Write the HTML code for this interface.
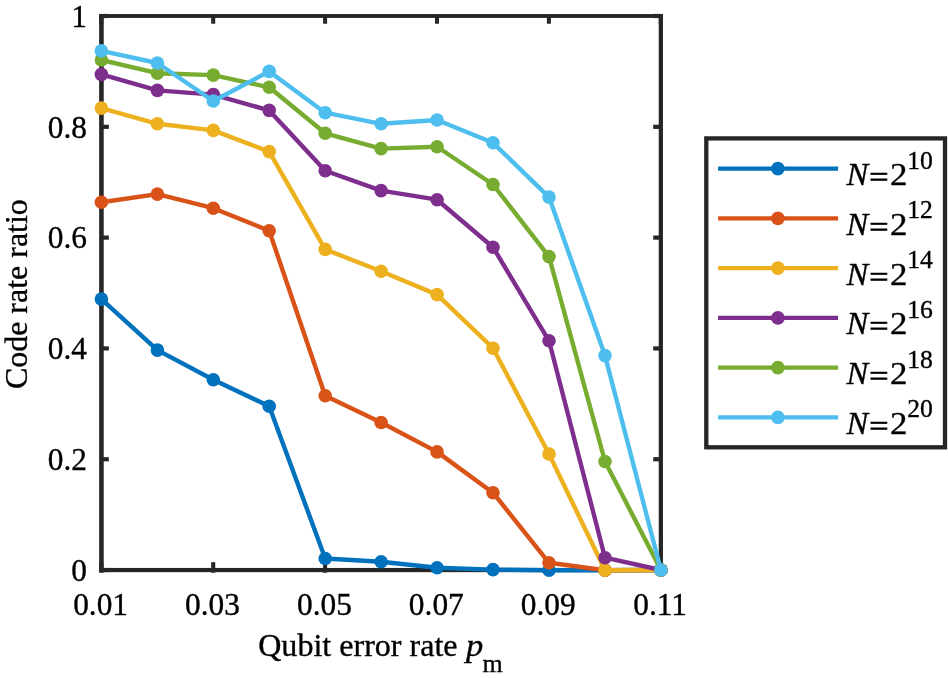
<!DOCTYPE html>
<html><head><meta charset="utf-8"><title>Code rate ratio</title>
<style>
html,body{margin:0;padding:0;background:#fff;}
svg{display:block;}
text{font-family:"Liberation Serif","Times New Roman",serif;fill:#000;}
</style></head><body>
<svg width="948" height="678" viewBox="0 0 948 678">
<rect width="948" height="678" fill="#fff"/>

<g fill="#262626">
<rect x="99.14" y="14.07" width="4.58" height="558.09"/>
<rect x="658.74" y="14.07" width="4.22" height="558.09"/>
<rect x="99.14" y="14.07" width="563.82" height="3.85"/>
<rect x="99.14" y="567.94" width="563.82" height="4.22"/>
<rect x="99.27" y="562.14" width="4.06" height="10.6"/>
<rect x="99.27" y="16" width="4.06" height="7.72"/>
<rect x="211.17" y="562.14" width="4.06" height="10.6"/>
<rect x="211.17" y="16" width="4.06" height="7.72"/>
<rect x="323.07" y="562.14" width="4.06" height="10.6"/>
<rect x="323.07" y="16" width="4.06" height="7.72"/>
<rect x="434.97" y="562.14" width="4.06" height="10.6"/>
<rect x="434.97" y="16" width="4.06" height="7.72"/>
<rect x="546.87" y="562.14" width="4.06" height="10.6"/>
<rect x="546.87" y="16" width="4.06" height="7.72"/>
<rect x="658.77" y="562.14" width="4.06" height="10.6"/>
<rect x="658.77" y="16" width="4.06" height="7.72"/>
<rect x="101" y="567.95" width="7.84" height="4.2"/>
<rect x="653.2" y="567.95" width="7.8" height="4.2"/>
<rect x="101" y="457.14" width="7.84" height="4.2"/>
<rect x="653.2" y="457.14" width="7.8" height="4.2"/>
<rect x="101" y="346.33" width="7.84" height="4.2"/>
<rect x="653.2" y="346.33" width="7.8" height="4.2"/>
<rect x="101" y="235.52" width="7.84" height="4.2"/>
<rect x="653.2" y="235.52" width="7.8" height="4.2"/>
<rect x="101" y="124.71" width="7.84" height="4.2"/>
<rect x="653.2" y="124.71" width="7.8" height="4.2"/>
<rect x="101" y="13.90" width="7.84" height="4.2"/>
<rect x="653.2" y="13.90" width="7.8" height="4.2"/>
</g>
<polyline points="101.4,299.1 157.4,350.1 213.3,379.7 269.2,406.2 325.2,558.5 381.1,561.8 437.1,567.8 493.0,569.6 549.0,570.2 605.0,570.2 660.9,570.0" fill="none" stroke="#0072BD" stroke-width="4.4" stroke-linejoin="round"/>
<g fill="#0072BD"><circle cx="101.4" cy="299.1" r="6.8"/><circle cx="157.4" cy="350.1" r="6.8"/><circle cx="213.3" cy="379.7" r="6.8"/><circle cx="269.2" cy="406.2" r="6.8"/><circle cx="325.2" cy="558.5" r="6.8"/><circle cx="381.1" cy="561.8" r="6.8"/><circle cx="437.1" cy="567.8" r="6.8"/><circle cx="493.0" cy="569.6" r="6.8"/><circle cx="549.0" cy="570.2" r="6.8"/><circle cx="605.0" cy="570.2" r="6.8"/><circle cx="660.9" cy="570.0" r="6.8"/></g>
<polyline points="101.4,202.2 157.4,194.1 213.3,208.2 269.2,230.8 325.2,395.7 381.1,422.5 437.1,451.9 493.0,492.7 549.0,562.8 605.0,570.2 660.9,570.0" fill="none" stroke="#D95319" stroke-width="4.4" stroke-linejoin="round"/>
<g fill="#D95319"><circle cx="101.4" cy="202.2" r="6.8"/><circle cx="157.4" cy="194.1" r="6.8"/><circle cx="213.3" cy="208.2" r="6.8"/><circle cx="269.2" cy="230.8" r="6.8"/><circle cx="325.2" cy="395.7" r="6.8"/><circle cx="381.1" cy="422.5" r="6.8"/><circle cx="437.1" cy="451.9" r="6.8"/><circle cx="493.0" cy="492.7" r="6.8"/><circle cx="549.0" cy="562.8" r="6.8"/><circle cx="605.0" cy="570.2" r="6.8"/><circle cx="660.9" cy="570.0" r="6.8"/></g>
<polyline points="101.4,108.1 157.4,123.8 213.3,130.4 269.2,151.6 325.2,249.4 381.1,271.3 437.1,294.6 493.0,348.2 549.0,454.0 605.0,570.2 660.9,570.0" fill="none" stroke="#EDB120" stroke-width="4.4" stroke-linejoin="round"/>
<g fill="#EDB120"><circle cx="101.4" cy="108.1" r="6.8"/><circle cx="157.4" cy="123.8" r="6.8"/><circle cx="213.3" cy="130.4" r="6.8"/><circle cx="269.2" cy="151.6" r="6.8"/><circle cx="325.2" cy="249.4" r="6.8"/><circle cx="381.1" cy="271.3" r="6.8"/><circle cx="437.1" cy="294.6" r="6.8"/><circle cx="493.0" cy="348.2" r="6.8"/><circle cx="549.0" cy="454.0" r="6.8"/><circle cx="605.0" cy="570.2" r="6.8"/><circle cx="660.9" cy="570.0" r="6.8"/></g>
<polyline points="101.4,74.4 157.4,90.4 213.3,94.6 269.2,110.4 325.2,170.8 381.1,190.6 437.1,199.7 493.0,247.2 549.0,340.8 605.0,557.7 660.9,570.0" fill="none" stroke="#7E2F8E" stroke-width="4.4" stroke-linejoin="round"/>
<g fill="#7E2F8E"><circle cx="101.4" cy="74.4" r="6.8"/><circle cx="157.4" cy="90.4" r="6.8"/><circle cx="213.3" cy="94.6" r="6.8"/><circle cx="269.2" cy="110.4" r="6.8"/><circle cx="325.2" cy="170.8" r="6.8"/><circle cx="381.1" cy="190.6" r="6.8"/><circle cx="437.1" cy="199.7" r="6.8"/><circle cx="493.0" cy="247.2" r="6.8"/><circle cx="549.0" cy="340.8" r="6.8"/><circle cx="605.0" cy="557.7" r="6.8"/><circle cx="660.9" cy="570.0" r="6.8"/></g>
<polyline points="101.4,60.0 157.4,73.2 213.3,75.1 269.2,87.3 325.2,133.3 381.1,148.6 437.1,146.8 493.0,184.5 549.0,256.6 605.0,461.5 660.9,570.0" fill="none" stroke="#77AC30" stroke-width="4.4" stroke-linejoin="round"/>
<g fill="#77AC30"><circle cx="101.4" cy="60.0" r="6.8"/><circle cx="157.4" cy="73.2" r="6.8"/><circle cx="213.3" cy="75.1" r="6.8"/><circle cx="269.2" cy="87.3" r="6.8"/><circle cx="325.2" cy="133.3" r="6.8"/><circle cx="381.1" cy="148.6" r="6.8"/><circle cx="437.1" cy="146.8" r="6.8"/><circle cx="493.0" cy="184.5" r="6.8"/><circle cx="549.0" cy="256.6" r="6.8"/><circle cx="605.0" cy="461.5" r="6.8"/><circle cx="660.9" cy="570.0" r="6.8"/></g>
<polyline points="101.4,50.9 157.4,63.0 213.3,101.0 269.2,71.4 325.2,112.7 381.1,123.8 437.1,120.0 493.0,142.8 549.0,197.1 605.0,355.6 660.9,570.0" fill="none" stroke="#4DBEEE" stroke-width="4.4" stroke-linejoin="round"/>
<g fill="#4DBEEE"><circle cx="101.4" cy="50.9" r="6.8"/><circle cx="157.4" cy="63.0" r="6.8"/><circle cx="213.3" cy="101.0" r="6.8"/><circle cx="269.2" cy="71.4" r="6.8"/><circle cx="325.2" cy="112.7" r="6.8"/><circle cx="381.1" cy="123.8" r="6.8"/><circle cx="437.1" cy="120.0" r="6.8"/><circle cx="493.0" cy="142.8" r="6.8"/><circle cx="549.0" cy="197.1" r="6.8"/><circle cx="605.0" cy="355.6" r="6.8"/><circle cx="660.9" cy="570.0" r="6.8"/></g>
<rect x="706.3" y="138.4" width="238.7" height="308.9" fill="#fff" stroke="#262626" stroke-width="4.3"/>
<line x1="718.1" y1="168.65" x2="838.1" y2="168.65" stroke="#0072BD" stroke-width="4.4"/>
<circle cx="777.9" cy="168.65" r="6.8" fill="#0072BD"/>
<line x1="718.1" y1="218.4" x2="838.1" y2="218.4" stroke="#D95319" stroke-width="4.4"/>
<circle cx="777.9" cy="218.4" r="6.8" fill="#D95319"/>
<line x1="718.1" y1="268.15" x2="838.1" y2="268.15" stroke="#EDB120" stroke-width="4.4"/>
<circle cx="777.9" cy="268.15" r="6.8" fill="#EDB120"/>
<line x1="718.1" y1="317.9" x2="838.1" y2="317.9" stroke="#7E2F8E" stroke-width="4.4"/>
<circle cx="777.9" cy="317.9" r="6.8" fill="#7E2F8E"/>
<line x1="718.1" y1="367.65" x2="838.1" y2="367.65" stroke="#77AC30" stroke-width="4.4"/>
<circle cx="777.9" cy="367.65" r="6.8" fill="#77AC30"/>
<line x1="718.1" y1="417.4" x2="838.1" y2="417.4" stroke="#4DBEEE" stroke-width="4.4"/>
<circle cx="777.9" cy="417.4" r="6.8" fill="#4DBEEE"/>
<text transform="translate(100.60,614.60) scale(1.005,1)" font-size="31.2" text-anchor="middle" stroke="#000" stroke-width="0.35">0.01</text>
<text transform="translate(212.50,614.60) scale(1.005,1)" font-size="31.2" text-anchor="middle" stroke="#000" stroke-width="0.35">0.03</text>
<text transform="translate(324.40,614.60) scale(1.005,1)" font-size="31.2" text-anchor="middle" stroke="#000" stroke-width="0.35">0.05</text>
<text transform="translate(436.30,614.60) scale(1.005,1)" font-size="31.2" text-anchor="middle" stroke="#000" stroke-width="0.35">0.07</text>
<text transform="translate(548.20,614.60) scale(1.005,1)" font-size="31.2" text-anchor="middle" stroke="#000" stroke-width="0.35">0.09</text>
<text transform="translate(660.10,614.60) scale(1.005,1)" font-size="31.2" text-anchor="middle" stroke="#000" stroke-width="0.35">0.11</text>
<text transform="translate(86.90,580.85) scale(1.005,1)" font-size="31.2" text-anchor="end" stroke="#000" stroke-width="0.35">0</text>
<text transform="translate(86.90,470.04) scale(1.005,1)" font-size="31.2" text-anchor="end" stroke="#000" stroke-width="0.35">0.2</text>
<text transform="translate(86.90,359.23) scale(1.005,1)" font-size="31.2" text-anchor="end" stroke="#000" stroke-width="0.35">0.4</text>
<text transform="translate(86.90,248.42) scale(1.005,1)" font-size="31.2" text-anchor="end" stroke="#000" stroke-width="0.35">0.6</text>
<text transform="translate(86.90,137.61) scale(1.005,1)" font-size="31.2" text-anchor="end" stroke="#000" stroke-width="0.35">0.8</text>
<text transform="translate(86.90,26.80) scale(1.005,1)" font-size="31.2" text-anchor="end" stroke="#000" stroke-width="0.35">1</text>
<text transform="translate(258.20,656.00) scale(0.993,1)" font-size="32.3" stroke="#000" stroke-width="0.35">Qubit error rate</text>
<text transform="translate(466.00,656.00) scale(1.07,1)" font-size="32.3" font-style="italic" stroke="#000" stroke-width="0.35">p</text>
<text transform="translate(482.60,671.90)" font-size="26.0" stroke="#000" stroke-width="0.35">m</text>
<text transform="translate(27.20,389.10) rotate(-90) scale(0.99,1)" font-size="32.3" stroke="#000" stroke-width="0.35">Code rate ratio</text>
<text transform="translate(846.50,185.00) scale(1.03,1)" font-size="31.6" font-style="italic" stroke="#000" stroke-width="0.35">N</text>
<text transform="translate(869.30,186.20) scale(1.22,1)" font-size="28.0" stroke="#000" stroke-width="0.75">=</text>
<text transform="translate(890.10,185.00) scale(1.07,1)" font-size="32.6" stroke="#000" stroke-width="0.35">2</text>
<text transform="translate(907.20,168.50) scale(0.98,1)" font-size="26.2" stroke="#000" stroke-width="0.35">10</text>
<text transform="translate(846.50,234.75) scale(1.03,1)" font-size="31.6" font-style="italic" stroke="#000" stroke-width="0.35">N</text>
<text transform="translate(869.30,235.95) scale(1.22,1)" font-size="28.0" stroke="#000" stroke-width="0.75">=</text>
<text transform="translate(890.10,234.75) scale(1.07,1)" font-size="32.6" stroke="#000" stroke-width="0.35">2</text>
<text transform="translate(907.20,218.25) scale(0.98,1)" font-size="26.2" stroke="#000" stroke-width="0.35">12</text>
<text transform="translate(846.50,284.50) scale(1.03,1)" font-size="31.6" font-style="italic" stroke="#000" stroke-width="0.35">N</text>
<text transform="translate(869.30,285.70) scale(1.22,1)" font-size="28.0" stroke="#000" stroke-width="0.75">=</text>
<text transform="translate(890.10,284.50) scale(1.07,1)" font-size="32.6" stroke="#000" stroke-width="0.35">2</text>
<text transform="translate(907.20,268.00) scale(0.98,1)" font-size="26.2" stroke="#000" stroke-width="0.35">14</text>
<text transform="translate(846.50,334.25) scale(1.03,1)" font-size="31.6" font-style="italic" stroke="#000" stroke-width="0.35">N</text>
<text transform="translate(869.30,335.45) scale(1.22,1)" font-size="28.0" stroke="#000" stroke-width="0.75">=</text>
<text transform="translate(890.10,334.25) scale(1.07,1)" font-size="32.6" stroke="#000" stroke-width="0.35">2</text>
<text transform="translate(907.20,317.75) scale(0.98,1)" font-size="26.2" stroke="#000" stroke-width="0.35">16</text>
<text transform="translate(846.50,384.00) scale(1.03,1)" font-size="31.6" font-style="italic" stroke="#000" stroke-width="0.35">N</text>
<text transform="translate(869.30,385.20) scale(1.22,1)" font-size="28.0" stroke="#000" stroke-width="0.75">=</text>
<text transform="translate(890.10,384.00) scale(1.07,1)" font-size="32.6" stroke="#000" stroke-width="0.35">2</text>
<text transform="translate(907.20,367.50) scale(0.98,1)" font-size="26.2" stroke="#000" stroke-width="0.35">18</text>
<text transform="translate(846.50,433.75) scale(1.03,1)" font-size="31.6" font-style="italic" stroke="#000" stroke-width="0.35">N</text>
<text transform="translate(869.30,434.95) scale(1.22,1)" font-size="28.0" stroke="#000" stroke-width="0.75">=</text>
<text transform="translate(890.10,433.75) scale(1.07,1)" font-size="32.6" stroke="#000" stroke-width="0.35">2</text>
<text transform="translate(907.20,417.25) scale(0.98,1)" font-size="26.2" stroke="#000" stroke-width="0.35">20</text>
</svg>
</body></html>
